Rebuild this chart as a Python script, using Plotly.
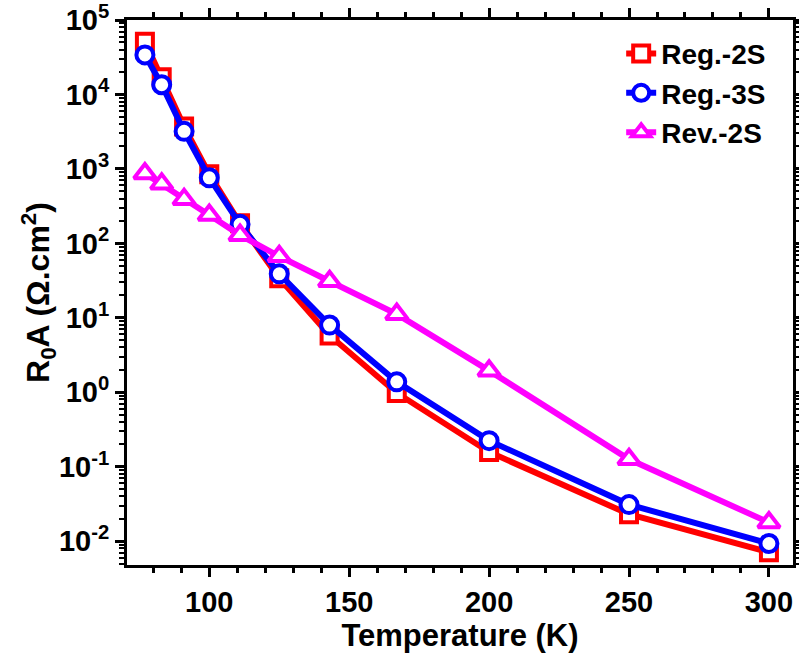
import plotly.graph_objects as go

temperature = [77, 83, 91, 100, 111, 125, 143, 167, 200, 250, 300]
reg_2s = [5.1e4, 1.7e4, 3.7e3, 850, 186, 34, 5.8, 0.98, 0.158, 0.023, 0.0071]
reg_3s = [3.4e4, 1.35e4, 3.2e3, 760, 180, 39, 8.0, 1.38, 0.224, 0.031, 0.0093]
rev_2s = [870, 630, 390, 240, 129, 67, 31, 11.2, 1.95, 0.126, 0.0178]

x_tickvals = [100, 150, 200, 250, 300]
y_tickvals = [1e-2, 1e-1, 1e0, 1e1, 1e2, 1e3, 1e4, 1e5]
y_ticktext = ["10<sup>-2</sup>", "10<sup>-1</sup>", "10<sup>0</sup>", "10<sup>1</sup>",
              "10<sup>2</sup>", "10<sup>3</sup>", "10<sup>4</sup>", "10<sup>5</sup>"]

FONT = "Liberation Sans, Arial, sans-serif"
XR = [70.6, 308.6]
YR = [-2.32, 5.0]

series = [
    ("Reg.-2S", reg_2s, "#FF0000", "square", 16),
    ("Reg.-3S", reg_3s, "#0000FF", "circle", 17),
    ("Rev.-2S", rev_2s, "#FF00FF", "triangle-up", 19),
]

fig = go.Figure()
for name, vals, col, sym, sz in series:
    fig.add_trace(go.Scatter(
        x=temperature, y=vals, name=name, mode="lines+markers",
        legendgroup=name,
        line=dict(color=col, width=6),
        marker=dict(symbol=sym, size=sz, color="white", line=dict(color=col, width=4)),
    ))

base = dict(showgrid=False, zeroline=False, showline=True, linewidth=3, linecolor="black",
            mirror="allticks", ticks="outside", ticklen=9, tickwidth=3, tickcolor="black",
            automargin=False)

fig.update_layout(
    width=799, height=655,
    margin=dict(l=127, r=6, t=20, b=90),
    paper_bgcolor="white", plot_bgcolor="white",
    font=dict(family=FONT, color="black", size=28, weight="bold"),
    showlegend=True,
    legend=dict(x=0.742, y=0.984, xanchor="left", yanchor="top",
                font=dict(family=FONT, size=28, color="black", weight="bold"),
                bgcolor="rgba(0,0,0,0)", tracegroupgap=0, traceorder="grouped"),
    xaxis=dict(range=XR, tickmode="array", tickvals=x_tickvals,
               minor=dict(ticks="outside", ticklen=5, dtick=10, tick0=0,
                          tickwidth=2.5, tickcolor="black", showgrid=False),
               title=dict(text="Temperature (K)", font=dict(size=31, weight="bold"), standoff=4),
               tickfont=dict(size=29, weight="bold"),
               **base),
    yaxis=dict(type="log", range=YR, tickmode="array", tickvals=y_tickvals,
               ticktext=y_ticktext, ticklabeloverflow="allow",
               minor=dict(ticks="outside", ticklen=5, dtick="D1",
                          tickwidth=2, tickcolor="black", showgrid=False),
               title=dict(text="R<sub>0</sub>A (Ω.cm<sup>2</sup>)", font=dict(size=32, weight="bold"), standoff=0),
               tickfont=dict(size=29, weight="bold"),
               **base),
)

fig.write_html("out.html", config={"displayModeBar": False},
               post_script="document.body.style.margin='0';document.body.style.overflow='hidden';")
